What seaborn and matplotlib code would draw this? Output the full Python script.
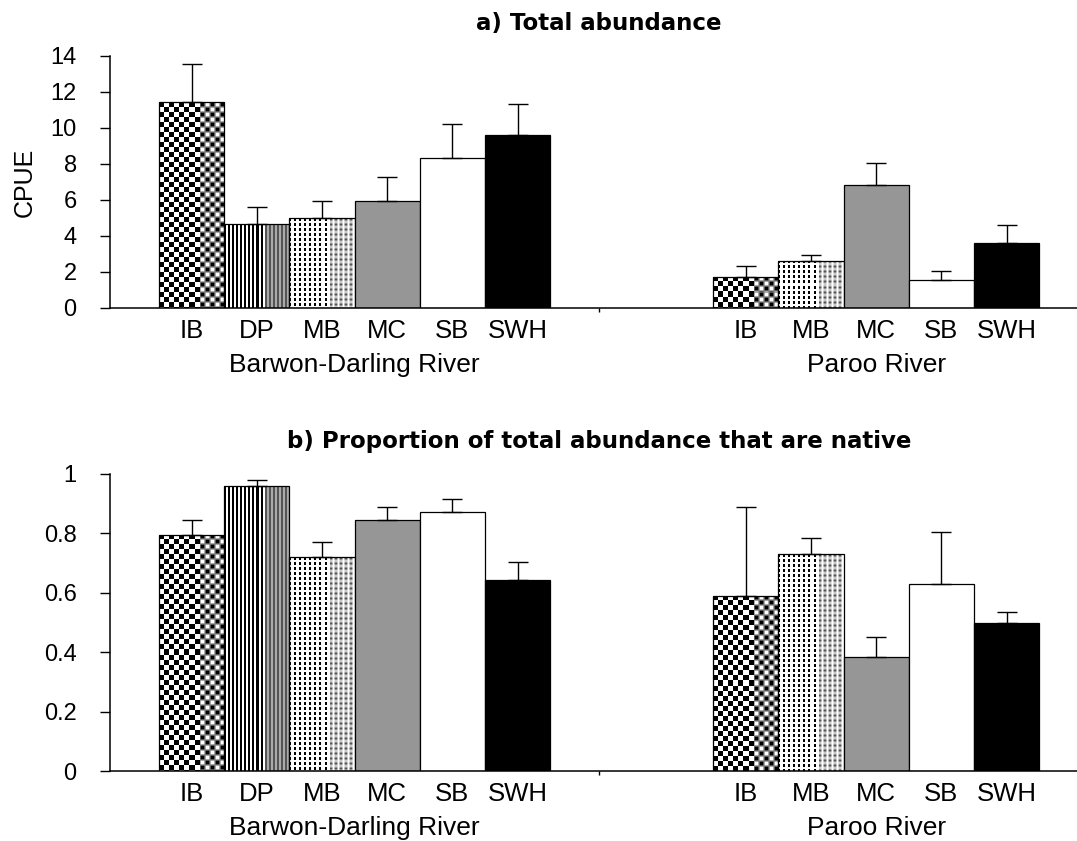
import numpy as np
import pandas as pd
import matplotlib
matplotlib.use("Agg")
import matplotlib.pyplot as plt
import seaborn as sns

# --- data ---------------------------------------------------------------
rivers = ["Barwon-Darling River", "Paroo River"]
sites_bd = ["IB", "DP", "MB", "MC", "SB", "SWH"]
sites_pa = ["IB", "MB", "MC", "SB", "SWH"]

cpue_bd = [11.44, 4.64, 5.00, 5.97, 8.33, 9.62]
cpue_bd_se = [2.11, 0.98, 0.93, 1.30, 1.90, 1.73]
cpue_pa = [1.74, 2.63, 6.86, 1.56, 3.60]
cpue_pa_se = [0.60, 0.32, 1.19, 0.48, 1.00]

native_bd = [0.796, 0.958, 0.720, 0.845, 0.872, 0.643]
native_bd_se = [0.050, 0.023, 0.050, 0.045, 0.045, 0.062]
native_pa = [0.590, 0.730, 0.384, 0.629, 0.498]
native_pa_se = [0.300, 0.053, 0.067, 0.175, 0.036]

cpue_ticks = [0, 2, 4, 6, 8, 10, 12, 14]
native_ticks = [0, 0.2, 0.4, 0.6, 0.8, 1]
native_ticklabels = ["0", "0.2", "0.4", "0.6", "0.8", "1"]

# Excel-like layout: 6 series slots per river, gap width 150%
n_slots = 6
bw = 1 / (n_slots + 1.5)
slots_bd = [0, 1, 2, 3, 4, 5]
slots_pa = [1, 2, 3, 4, 5]

fill = {"IB": "checker", "DP": "stripes", "MB": "dots",
        "MC": "#969696", "SB": "white", "SWH": "black"}


def frame(vals_bd, se_bd, vals_pa, se_pa):
    rows = []
    for r, (sites, slots, vals, ses) in enumerate(
            [(sites_bd, slots_bd, vals_bd, se_bd), (sites_pa, slots_pa, vals_pa, se_pa)]):
        for s, sl, v, e in zip(sites, slots, vals, ses):
            rows.append({"river": rivers[r], "site": s,
                         "pos": r + 0.5 + (sl - (n_slots - 1) / 2) * bw,
                         "val": v, "se": e})
    return pd.DataFrame(rows).sort_values("pos").reset_index(drop=True)


def blur(a):
    p = np.pad(a, 1, mode="edge")
    out = np.zeros_like(a)
    for dy in range(3):
        for dx in range(3):
            out += p[dy:dy + a.shape[0], dx:dx + a.shape[1]]
    return out / 9


def pattern(kind, w, h):
    yy, xx = np.mgrid[0:h, 0:w]
    if kind == "checker":
        a = ((xx // 5 + yy // 5) % 2).astype(float)
    elif kind == "stripes":
        a = ((xx % 4) >= 2).astype(float)
    else:
        a = 1.0 - (((xx % 5) < 2) & ((yy % 5) < 3)).astype(float)
    soft = blur(a)
    cut = int(w * 0.63)
    a[:, cut:] = soft[:, cut:]
    return a


sns.set_style("ticks", {"text.color": "black", "axes.labelcolor": "black",
                        "xtick.color": "black", "ytick.color": "black",
                        "axes.edgecolor": "black"})
plt.rcParams["font.family"] = ["Liberation Sans", "DejaVu Sans"]

fig = plt.figure(figsize=(10.77, 8.41), dpi=100)
W, H = 1077, 841
ax_top = fig.add_axes([110 / W, (H - 308) / H, 978 / W, 252 / H])
ax_bot = fig.add_axes([110 / W, (H - 771) / H, 978 / W, 297 / H])

panels = [
    (ax_top, frame(cpue_bd, cpue_bd_se, cpue_pa, cpue_pa_se), (0, 14),
     cpue_ticks, [str(t) for t in cpue_ticks], "a) Total abundance", 18.5, "CPUE"),
    (ax_bot, frame(native_bd, native_bd_se, native_pa, native_pa_se), (0, 1),
     native_ticks, native_ticklabels,
     "b) Proportion of total abundance that are native", 19, ""),
]

for ax, df, ylim, yt, ytl, title, tpad, ylabel in panels:
    sns.barplot(data=df, x="pos", y="val", native_scale=True, orient="x",
                width=1, color="white", edgecolor="black", linewidth=0.9,
                errorbar=None, saturation=1, ax=ax)
    ax.set_xlim(0, 2)
    ax.set_ylim(*ylim)
    ax.errorbar(df["pos"], df["val"], yerr=[np.zeros(len(df)), df["se"]],
                fmt="none", ecolor="black", elinewidth=1.0, capsize=7,
                capthick=1.0, zorder=3)

    sx = ax.transData.transform((1, 0))[0] - ax.transData.transform((0, 0))[0]
    sy = ax.transData.transform((0, 1))[1] - ax.transData.transform((0, 0))[1]
    for patch, site in zip(ax.patches, df["site"]):
        f = fill[site]
        if f in ("checker", "stripes", "dots"):
            x0, w, h = patch.get_x(), patch.get_width(), patch.get_height()
            img = pattern(f, max(int(round(w * sx)), 2), max(int(round(h * sy)), 2))
            im = ax.imshow(img, cmap="gray", vmin=0, vmax=1, aspect="auto",
                           interpolation="nearest", extent=(x0, x0 + w, 0, h),
                           zorder=0.8)
            im.set_clip_path(patch)
            patch.set_facecolor("none")
        else:
            patch.set_facecolor(f)

    ax.set_xlim(0, 2)
    ax.set_ylim(*ylim)
    ax.set_yticks(yt)
    ax.set_yticklabels(ytl)
    ax.set_xticks(df["pos"])
    ax.set_xticklabels(df["site"])
    ax.set_xticks([1], minor=True)
    ax.tick_params(axis="y", direction="out", length=7, width=1,
                   labelsize=17, pad=17, color="black", labelcolor="black")
    ax.tick_params(axis="x", which="major", length=0, labelsize=18.5, pad=8,
                   labelcolor="black")
    ax.tick_params(axis="x", which="minor", length=3, width=1, direction="out",
                   color="black")
    ax.set_xlabel("")
    ax.set_ylabel(ylabel, fontsize=18, labelpad=10, color="black")
    sns.despine(ax=ax)
    for sp in ("left", "bottom"):
        ax.spines[sp].set_linewidth(1.1)
        ax.spines[sp].set_color("black")
    ax.set_title(title, fontsize=16.5, fontweight="bold", family="DejaVu Sans",
                 pad=tpad, color="black")

    for river, grp in df.groupby("river", sort=False):
        ax.annotate(river, xy=(grp["pos"].mean(), 0),
                    xycoords=("data", "axes fraction"), xytext=(0, -46),
                    textcoords="offset points", ha="center", va="baseline",
                    fontsize=19, color="black")

fig.savefig("out.png", dpi=100, facecolor="white")
